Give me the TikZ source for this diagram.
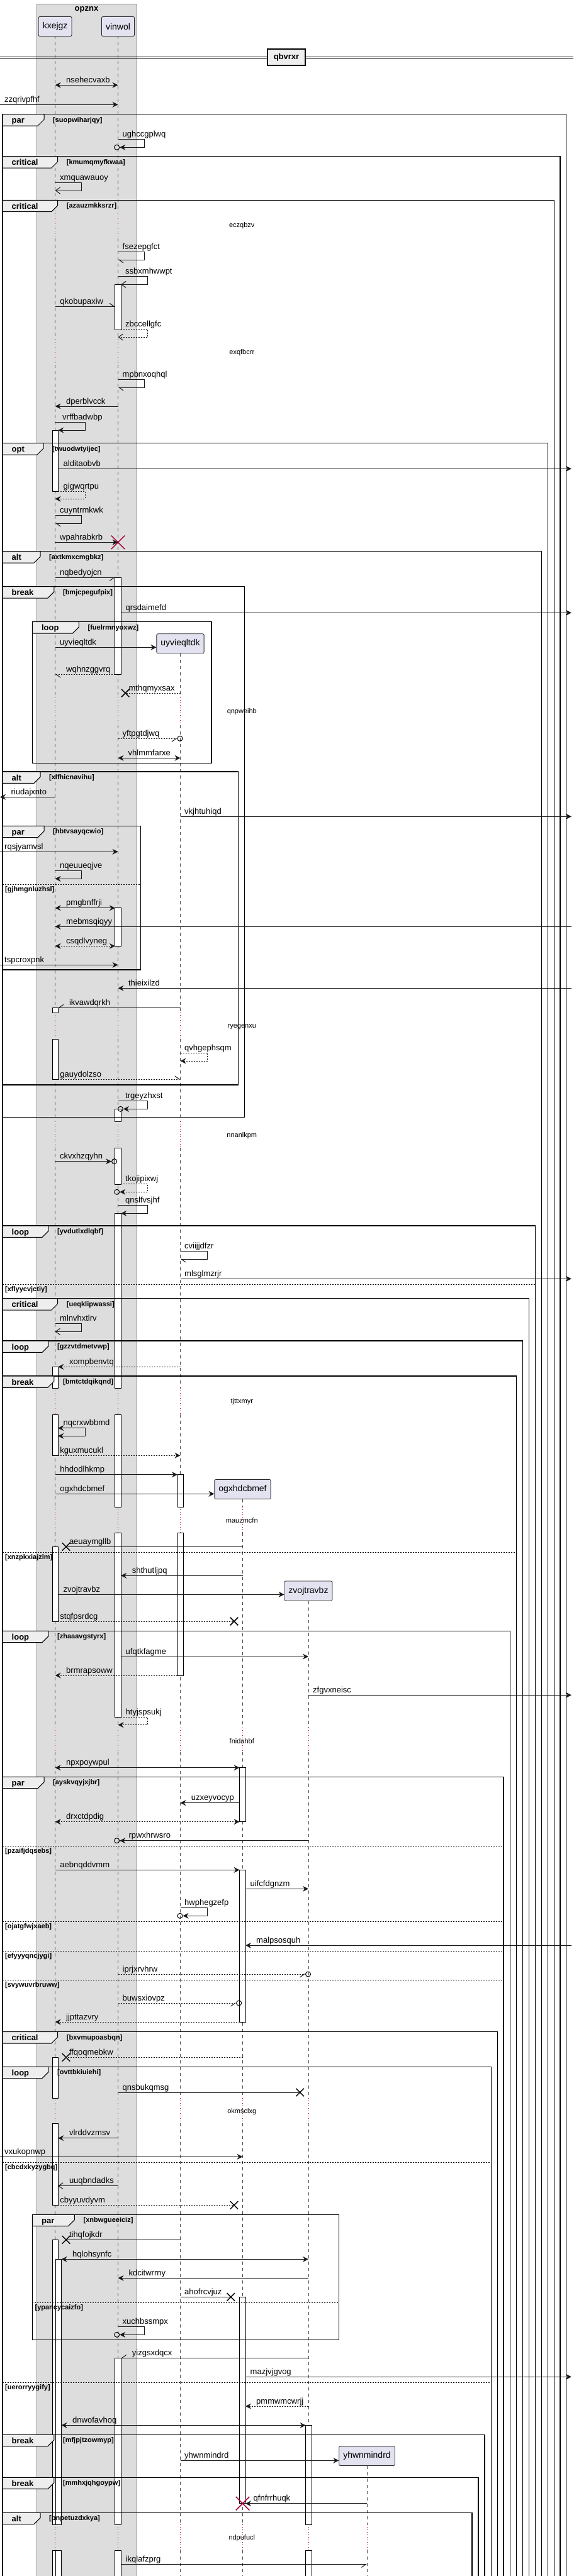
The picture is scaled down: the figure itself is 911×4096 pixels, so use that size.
\documentclass[tikz,border=0pt]{standalone}
\usepackage{fontspec}
\setmainfont{Liberation Sans}
\usetikzlibrary{arrows.meta,shapes.misc}
\definecolor{partfill}{HTML}{E2E2F0}
\definecolor{groupfill}{HTML}{DDDDDD}
\definecolor{tabfill}{HTML}{EEEEEE}
\definecolor{killred}{HTML}{A80036}
\tikzset{
  part/.style={draw=black!85, fill=partfill, rounded corners=2pt, line width=0.8pt,
    minimum height=31pt, inner xsep=6.5pt, font=\fontsize{14}{16}\selectfont},
  life/.style={draw=black!70, line width=0.6pt, dash pattern=on 5pt off 5pt},
  delayline/.style={draw=killred, line width=0.8pt, dash pattern=on 1pt off 3pt},
  act/.style={draw=black, fill=white, line width=0.8pt},
  msg/.style={draw=black!90, line width=1pt},
  ret/.style={msg, dash pattern=on 2pt off 2pt},
  tipfull/.style={-{Stealth[length=9pt,width=9pt,inset=3pt]}},
  tipboth/.style={{Stealth[length=9pt,width=9pt,inset=3pt]}-{Stealth[length=9pt,width=9pt,inset=3pt]}},
  tipopen/.style={-{Straight Barb[length=7pt,width=10pt]}},
  tiphalfl/.style={-{Straight Barb[left,length=7pt,width=10pt]}},
  tiphalfr/.style={-{Straight Barb[right,length=7pt,width=10pt]}},
  lbl/.style={anchor=base west, inner sep=0pt, font=\fontsize{13}{15}\selectfont},
  grp/.style={draw=black, line width=1.5pt},
  tab/.style={draw=black, line width=1pt, fill=tabfill},
  kw/.style={anchor=base west, inner sep=0pt, font=\bfseries\fontsize{13}{15}\selectfont},
  cond/.style={anchor=base west, inner sep=0pt, font=\bfseries\fontsize{11}{13}\selectfont},
  elseline/.style={draw=black, line width=0.8pt, dash pattern=on 2pt off 2pt},
  delaytxt/.style={inner sep=0pt, font=\fontsize{11}{13}\selectfont},
  circ/.style={circle, draw=black, line width=1pt, minimum size=8pt, inner sep=0pt},
  lostx/.style={cross out, draw=black, line width=1.5pt, minimum size=11pt, inner sep=0pt},
  killx/.style={cross out, draw=killred, line width=1.5pt, minimum size=20pt, inner sep=0pt},
}
\begin{document}
\begin{tikzpicture}[x=1pt,y=-1pt]
\useasboundingbox (0,0) rectangle (911,4096);
\clip (0,0) rectangle (911,4096);

% box round the first two
\fill[groupfill] (57.8,6) rectangle (217.3,4110);
\draw[black!45] (57.8,4110) -- (57.8,6) -- (217.3,6) -- (217.3,4110);
\node[font=\bfseries\fontsize{13}{15}\selectfont] (opznx) at (137.5,15) {opznx};

\coordinate (Lft) at (0,0);
\coordinate (Rgt) at (908,0);
\coordinate (kxa) at (92.3,0);
\coordinate (kxb) at (97.55,0);
\coordinate (vwl) at (182.8,0);
\coordinate (vwr) at (192.2,0);
\coordinate (uyl) at (282,0);
\coordinate (ogl) at (380.55,0);
\coordinate (ogr) at (389.95,0);
\coordinate (zvl) at (485.6,0);

\node[part] (kxejgz) at (87.6,42) {kxejgz};
\node[part] (vinwol) at (187.5,42) {vinwol};
\node[part] (uyvieqltdk) at (286.5,1023.3) {uyvieqltdk};
\node[part] (ogxhdcbmef) at (385.5,2368) {ogxhdcbmef};
\node[part] (zvojtravbz) at (490,2529.5) {zvojtravbz};
\node[part] (yhwnmindrd) at (583,3905) {yhwnmindrd};

% lifelines
\foreach \p in {kxejgz,vinwol}
  \foreach \a/\b in {57/335,379/540,580/1109,1153/1610,1652/1783,1825/2207,2249/2396,2437/2747,2786/3336,3376/4014,4055/4110}
    \draw[life] (\p|-0,\a) -- (\p|-0,\b);
\foreach \a/\b in {1039.3/1109,1153/1610,1652/1783,1825/2207,2249/2396,2437/2747,2786/3336,3376/4014,4055/4110}
  \draw[life] (uyvieqltdk|-0,\a) -- (uyvieqltdk|-0,\b);
\foreach \a/\b in {2384/2396,2437/2747,2786/3336,3376/4014,4055/4110}
  \draw[life] (ogxhdcbmef|-0,\a) -- (ogxhdcbmef|-0,\b);
\foreach \a/\b in {2546/2747,2786/3336,3376/4014,4055/4110}
  \draw[life] (zvojtravbz|-0,\a) -- (zvojtravbz|-0,\b);
\foreach \a/\b in {3921/4014,4055/4110}
  \draw[life] (yhwnmindrd|-0,\a) -- (yhwnmindrd|-0,\b);

% delays
\foreach \a/\b/\ps in {335/379/{kxejgz,vinwol}, 540/580/{kxejgz,vinwol},
    1109/1153/{kxejgz,vinwol,uyvieqltdk}, 1610/1652/{kxejgz,vinwol,uyvieqltdk},
    1783/1825/{kxejgz,vinwol,uyvieqltdk}, 2207/2249/{kxejgz,vinwol,uyvieqltdk},
    2396/2437/{kxejgz,vinwol,uyvieqltdk,ogxhdcbmef},
    2747/2786/{kxejgz,vinwol,uyvieqltdk,ogxhdcbmef,zvojtravbz},
    3336/3376/{kxejgz,vinwol,uyvieqltdk,ogxhdcbmef,zvojtravbz},
    4014/4055/{kxejgz,vinwol,uyvieqltdk,ogxhdcbmef,zvojtravbz,yhwnmindrd}}
  {\foreach \p in \ps {\draw[delayline] (\p|-0,\a) -- (\p|-0,\b);}}
\foreach \y/\t in {358.7/eczqbzv, 560.3/exqfbcrr, 1132/qnpweihb, 1632.3/ryegenxu,
    1805.7/nnanlkpm, 2228.7/tjttxmyr, 2417.3/mauzmcfn, 2768.3/fnidahbf,
    3357.3/okmsclxg, 4035.7/ndpufucl}
  \node[delaytxt] (d-\t) at (384.3,\y) {\t};

% activations
\foreach \x/\a/\b in {87.6/684/781, 87.6/1602.3/1610, 87.6/1652/1716, 87.6/2173.3/2207,
    87.6/2249/2314.3, 87.6/2459.3/2578, 87.6/3271.3/3336, 87.6/3376/3506.3,
    87.6/3561.3/4014, 87.6/4055/4110, 92.85/3592.3/4014, 92.85/4055/4110,
    187.5/452.3/524.3, 187.5/918.3/1072.3, 187.5/1443.7/1504.3, 187.5/1763.3/1783,
    187.5/1825/1883.3, 187.5/1929.3/2207, 187.5/2249/2396, 187.5/2437/2730.7,
    187.5/3749.3/4014, 187.5/4055/4110, 286.7/2344.7/2396, 286.7/2437/2664,
    385.25/2810.7/2896.7, 385.25/2973.3/3215, 385.25/3652.3/3980.7,
    490.3/3856.3/4014, 490.3/4055/4110}
  \draw[act] (\x-4.7,\a) rectangle (\x+4.7,\b);

% divider
\draw[black, line width=1pt] (0,90.3) -- (911,90.3) (0,92.7) -- (911,92.7);
\node[draw=black, line width=1.5pt, fill=tabfill, minimum width=60pt, minimum height=26pt,
  font=\bfseries\fontsize{13}{15}\selectfont] (qbvrxr) at (455,91) {qbvrxr};

% groups
\foreach \l/\t/\r/\b/\k/\w/\c in {
    4/181.7/899.5/4110/par/66/suopwiharjqy,
    4/248.7/890.2/4110/critical/87.7/kmumqmyfkwaa,
    4/318.3/880.3/4110/critical/87.7/azauzmkksrzr,
    4/704.7/870.3/4110/opt/65/twuodwtyijec,
    4/876.7/860.4/4110/alt/60/axtkmxcmgbkz,
    4/932.7/388.4/1776.7/break/81.9/bmjcpegufpix,
    51.4/988.7/335.9/1213.3/loop/74/fuelrmnyoxwz,
    4/1227/378.5/1725/alt/60/xlfhicnavihu,
    4/1313.3/223.7/1542/par/66/hbtvsayqcwio,
    4/1949/850.5/4110/loop/73/yvdutlxdlqbf,
    4/2064.7/840.5/4110/critical/87.7/ueqklipwassi,
    4/2132/830.6/4110/loop/73/gzzvtdmetvwp,
    4/2188/820.7/4110/break/81.9/bmtctdqikqnd,
    4/2593.3/810.7/4110/loop/73/zhaaavgstyrx,
    4/2825.3/800.2/4110/par/66/ayskvqyjxjbr,
    4/3230.7/790.3/4110/critical/87.7/bxvmupoasbqn,
    4/3286.3/780.4/4110/loop/73/ovttbkiuiehi,
    51.4/3521.3/538.5/3720.7/par/67/xnbwgueeiciz,
    4/3871.3/769.9/4110/break/81.9/mfjpjtzowmyp,
    4/3939.3/760/4110/break/81.9/mmhxjqhgoypw,
    4/3995.3/750/4110/alt/60/pnpetuzdxkya}
{
  \draw[grp] (\l,\t) rectangle (\r,\b);
  \draw[tab] (\l,\t) -- ++(\w,0) -- ++(0,8.3) -- ++(-10,10) -- (\l,\t+18.3) -- cycle;
  \node[kw] (k-\c) at (\l+14.5,\t+14) {\k};
  \node[cond] (c-\c) at (\l+\w+14,\t+12.5) {[\c]};
}
\foreach \l/\y/\r/\c in {4/1406.3/223.7/gjhmgnluzhsl, 4/2042.3/850.5/xflyycvjctiy,
    4/2468.3/820.7/xnzpkxiajzlm, 4/2935.3/800.2/pzaifjdqsebs, 4/3055.3/800.2/ojatgfwjxaeb,
    4/3102/800.2/efyyyqncjygi, 4/3148.3/800.2/svywuvrbruww, 4/3438.3/780.4/cbcdxkyzygbq,
    51.4/3661.3/538.5/ypancycaizfo, 4/3788.3/780.4/uerorryygify}
{
  \draw[elseline] (\l,\y) -- (\r,\y);
  \node[cond] (e-\c) at (\l+4,\y+11.5) {[\c]};
}

% end marks
\node[circ] (o1) at (185.7,234.3) {};
\node[lostx] (x1) at (199.2,1102) {};
\node[circ] (o2) at (286,1174.3) {};
\node[circ] (o3) at (191.4,1763.3) {};
\node[circ] (o4) at (181.6,1846.7) {};
\node[circ] (o5) at (185.7,1895.3) {};
\node[lostx] (x2) at (105,2459.3) {};
\node[lostx] (x3) at (372,2578) {};
\node[circ] (o6) at (185.7,2926.7) {};
\node[circ] (o7) at (286,3046.3) {};
\node[circ] (o8) at (489.5,3139) {};
\node[circ] (o9) at (379.7,3185) {};
\node[lostx] (x4) at (105,3271.3) {};
\node[lostx] (x5) at (476.6,3327) {};
\node[lostx] (x6) at (372,3506.3) {};
\node[lostx] (x7) at (105,3561.3) {};
\node[lostx] (x8) at (366.8,3652.3) {};
\node[circ] (o10) at (185.7,3712.3) {};
\node[killx] (k1) at (vinwol|-0,862.3) {};
\node[killx] (k2) at (ogxhdcbmef|-0,3980.7) {};

% messages
\draw[msg,tipboth] (kxejgz|-0,135.3) -- (vinwol|-0,135.3);
\node[lbl] (l-nsehecvaxb) at (105,131.3) {nsehecvaxb};
\draw[msg,tipfull] (Lft|-0,166.3) -- (vinwol|-0,166.3);
\node[lbl] (l-zzqrivpfhf) at (7,162.3) {zzqrivpfhf};
\draw[msg,tipfull] (vinwol|-0,221.7) -- ++(42.1,0) -- ++(0,12.6) -- (o1.east);
\node[lbl] (l-ughccgplwq) at (194.5,217.7) {ughccgplwq};
\draw[msg,tipopen] (kxejgz|-0,290.3) -- ++(42.1,0) -- ++(0,12.7) -- (kxejgz|-0,303);
\node[lbl] (l-xmquawauoy) at (95,286.3) {xmquawauoy};
\draw[msg,tiphalfl] (vinwol|-0,400.3) -- ++(42.1,0) -- ++(0,12.7) -- (vinwol|-0,413);
\node[lbl] (l-fsezepgfct) at (194.5,396.3) {fsezepgfct};
\draw[msg,tipopen] (vinwol|-0,439.3) -- ++(47.3,0) -- ++(0,13) -- (vwr|-0,452.3);
\node[lbl] (l-ssbxmhwwpt) at (199,435.3) {ssbxmhwwpt};
\draw[msg,tiphalfl] (kxejgz|-0,487.3) -- (vwl|-0,487.3);
\node[lbl] (l-qkobupaxiw) at (95.2,483.3) {qkobupaxiw};
\draw[ret,tipopen] (vwr|-0,523.3) -- ++(42.6,0) -- ++(0,12.7) -- (vinwol|-0,536);
\node[lbl] (l-zbccellgfc) at (199,519.3) {zbccellgfc};
\draw[msg,tiphalfl] (vinwol|-0,603.3) -- ++(42.1,0) -- ++(0,12.7) -- (vinwol|-0,616);
\node[lbl] (l-mpbnxoqhql) at (194.5,599.3) {mpbnxoqhql};
\draw[msg,tipfull] (vinwol|-0,646) -- (kxejgz|-0,646);
\node[lbl] (l-dperblvcck) at (105,642) {dperblvcck};
\draw[msg,tipfull] (kxejgz|-0,671.3) -- ++(47.4,0) -- ++(0,12.7) -- (kxa|-0,684);
\node[lbl] (l-vrffbadwbp) at (99,667.3) {vrffbadwbp};
\draw[msg,tipfull] (kxa|-0,745.3) -- (Rgt|-0,745.3);
\node[lbl] (l-alditaobvb) at (100.5,741.3) {alditaobvb};
\draw[ret,tipfull] (kxa|-0,781) -- ++(42.7,0) -- ++(0,12.3) -- (kxejgz|-0,793.3);
\node[lbl] (l-gigwqrtpu) at (100.5,777) {gigwqrtpu};
\draw[msg,tiphalfl] (kxejgz|-0,819.3) -- ++(42.1,0) -- ++(0,12.7) -- (kxejgz|-0,832);
\node[lbl] (l-cuyntrmkwk) at (95,815.3) {cuyntrmkwk};
\draw[msg,tipfull] (kxejgz|-0,862.3) -- (k1.center);
\node[lbl] (l-wpahrabkrb) at (95,858.3) {wpahrabkrb};
\draw[msg,tiphalfr] (kxejgz|-0,918.3) -- (vwl|-0,918.3);
\node[lbl] (l-nqbedyojcn) at (95,914.3) {nqbedyojcn};
\draw[msg,tipfull] (vwr|-0,974.3) -- (Rgt|-0,974.3);
\node[lbl] (l-qrsdaimefd) at (199.5,970.3) {qrsdaimefd};
\draw[msg,tipfull] (kxejgz|-0,1029.3) -- (uyvieqltdk.west|-0,1029.3);
\node[lbl] (l-uyvieqltdk) at (95,1025.3) {uyvieqltdk};
\draw[ret,tiphalfl] (vwl|-0,1072.3) -- (kxejgz|-0,1072.3);
\node[lbl] (l-wqhnzggvrq) at (105,1068.3) {wqhnzggvrq};
\draw[ret] (uyvieqltdk|-0,1102) -- (x1.center);
\node[lbl] (l-mthqmyxsax) at (204.4,1098) {mthqmyxsax};
\draw[ret,tiphalfr] (vinwol|-0,1174.3) -- (o2.west);
\node[lbl] (l-yftpgtdjwq) at (194.5,1170.3) {yftpgtdjwq};
\draw[msg,tipboth] (vinwol|-0,1205.3) -- (uyvieqltdk|-0,1205.3);
\node[lbl] (l-vhlmmfarxe) at (203.5,1201.3) {vhlmmfarxe};
\draw[msg,tipfull] (kxejgz|-0,1267.3) -- (Lft|-0,1267.3);
\node[lbl] (l-riudajxnto) at (17.5,1263.3) {riudajxnto};
\draw[msg,tipfull] (uyvieqltdk|-0,1298.3) -- (Rgt|-0,1298.3);
\node[lbl] (l-vkjhtuhiqd) at (293,1294.3) {vkjhtuhiqd};
\draw[msg,tipfull] (Lft|-0,1354.3) -- (vinwol|-0,1354.3);
\node[lbl] (l-rqsjyamvsl) at (7,1350.3) {rqsjyamvsl};
\draw[msg,tipfull] (kxejgz|-0,1384.3) -- ++(42.1,0) -- ++(0,13) -- (kxejgz|-0,1397.3);
\node[lbl] (l-nqeuueqjve) at (95,1380.3) {nqeuueqjve};
\draw[msg,tipboth] (kxejgz|-0,1443.7) -- (vwl|-0,1443.7);
\node[lbl] (l-pmgbnffrji) at (105,1439.7) {pmgbnffrji};
\draw[msg,tipfull] (Rgt|-0,1473.3) -- (kxejgz|-0,1473.3);
\node[lbl] (l-mebmsqiqyy) at (105,1469.3) {mebmsqiqyy};
\draw[ret,tipboth] (kxejgz|-0,1504.3) -- (vwl|-0,1504.3);
\node[lbl] (l-csqdlvyneg) at (105,1500.3) {csqdlvyneg};
\draw[msg,tipfull] (Lft|-0,1534.3) -- (vinwol|-0,1534.3);
\node[lbl] (l-tspcroxpnk) at (7,1530.3) {tspcroxpnk};
\draw[msg,tipfull] (Rgt|-0,1571.3) -- (vinwol|-0,1571.3);
\node[lbl] (l-thieixilzd) at (203.9,1567.3) {thieixilzd};
\draw[msg,tiphalfr] (uyvieqltdk|-0,1602.3) -- (kxa|-0,1602.3);
\node[lbl] (l-ikvawdqrkh) at (109.8,1598.3) {ikvawdqrkh};
\draw[ret,tipfull] (uyvieqltdk|-0,1674) -- ++(43.4,0) -- ++(0,13) -- (uyvieqltdk|-0,1687);
\node[lbl] (l-qvhgephsqm) at (293,1670) {qvhgephsqm};
\draw[ret,tiphalfl] (kxa|-0,1716) -- (uyvieqltdk|-0,1716);
\node[lbl] (l-gauydolzso) at (95.2,1712) {gauydolzso};
\draw[msg,tipfull] (vinwol|-0,1750.3) -- ++(47.3,0) -- ++(0,13) -- (o3.east);
\node[lbl] (l-trgeyzhxst) at (199,1746.3) {trgeyzhxst};
\draw[msg,tipfull] (kxejgz|-0,1846.7) -- (o4.west);
\node[lbl] (l-ckvxhzqyhn) at (95,1842.7) {ckvxhzqyhn};
\draw[ret,tipfull] (vwr|-0,1882.3) -- ++(42.6,0) -- ++(0,13) -- (o5.east);
\node[lbl] (l-tkojipixwj) at (199,1878.3) {tkojipixwj};
\draw[msg,tipfull] (vinwol|-0,1916.7) -- ++(47.3,0) -- ++(0,12.6) -- (vwr|-0,1929.3);
\node[lbl] (l-qnslfvsjhf) at (199,1912.7) {qnslfvsjhf};
\draw[msg,tiphalfl] (uyvieqltdk|-0,1989.3) -- ++(43.4,0) -- ++(0,12.7) -- (uyvieqltdk|-0,2002);
\node[lbl] (l-cviijjdfzr) at (293,1985.3) {cviijjdfzr};
\draw[msg,tipfull] (uyvieqltdk|-0,2033.3) -- (Rgt|-0,2033.3);
\node[lbl] (l-mlsglmzrjr) at (293,2029.3) {mlsglmzrjr};
\draw[msg,tipopen] (kxejgz|-0,2104.7) -- ++(42.1,0) -- ++(0,12.6) -- (kxejgz|-0,2117.3);
\node[lbl] (l-mlnvhxtlrv) at (95,2100.7) {mlnvhxtlrv};
\draw[ret,tipfull] (uyvieqltdk|-0,2173.3) -- (kxa|-0,2173.3);
\node[lbl] (l-xompbenvtq) at (109.8,2169.3) {xompbenvtq};
\draw[msg,tipboth] (kxa|-0,2270.7) -- ++(42.7,0) -- ++(0,12.6) -- (kxa|-0,2283.3);
\node[lbl] (l-nqcrxwbbmd) at (100.5,2266.7) {nqcrxwbbmd};
\draw[ret,tipfull] (kxa|-0,2314.3) -- (uyvieqltdk|-0,2314.3);
\node[lbl] (l-kguxmucukl) at (95.2,2310.3) {kguxmucukl};
\draw[msg,tipfull] (kxejgz|-0,2344.7) -- (uyl|-0,2344.7);
\node[lbl] (l-hhdodlhkmp) at (95.2,2340.7) {hhdodlhkmp};
\draw[msg,tipfull] (kxejgz|-0,2375.3) -- (ogxhdcbmef.west|-0,2375.3);
\node[lbl] (l-ogxhdcbmef) at (95.2,2371.3) {ogxhdcbmef};
\draw[msg] (ogxhdcbmef|-0,2459.3) -- (x2.center);
\node[lbl] (l-aeuaymgllb) at (109.8,2455.3) {aeuaymgllb};
\draw[msg,tipfull] (ogxhdcbmef|-0,2505.3) -- (vwr|-0,2505.3);
\node[lbl] (l-shthutljpq) at (209.7,2501.3) {shthutljpq};
\draw[msg,tipfull] (kxa|-0,2535.3) -- (zvojtravbz.west|-0,2535.3);
\node[lbl] (l-zvojtravbz) at (100.5,2531.3) {zvojtravbz};
\draw[ret] (kxa|-0,2578) -- (x3.center);
\node[lbl] (l-stqfpsrdcg) at (95.2,2574) {stqfpsrdcg};
\draw[msg,tipfull] (vwr|-0,2634) -- (zvojtravbz|-0,2634);
\node[lbl] (l-ufqtkfagme) at (199.5,2630) {ufqtkfagme};
\draw[ret,tipfull] (uyl|-0,2664) -- (kxejgz|-0,2664);
\node[lbl] (l-brmrapsoww) at (105,2660) {brmrapsoww};
\draw[msg,tipfull] (zvojtravbz|-0,2695.3) -- (Rgt|-0,2695.3);
\node[lbl] (l-zfgvxneisc) at (497,2691.3) {zfgvxneisc};
\draw[ret,tipfull] (vwr|-0,2730.7) -- ++(42.6,0) -- ++(0,12) -- (vinwol|-0,2742.7);
\node[lbl] (l-htyjspsukj) at (199.5,2726.7) {htyjspsukj};
\draw[msg,tipboth] (kxejgz|-0,2810.7) -- (ogl|-0,2810.7);
\node[lbl] (l-npxpoywpul) at (105,2806.7) {npxpoywpul};
\draw[msg,tipfull] (ogl|-0,2866.7) -- (uyvieqltdk|-0,2866.7);
\node[lbl] (l-uzxeyvocyp) at (303.7,2862.7) {uzxeyvocyp};
\draw[ret,tipboth] (kxejgz|-0,2896.7) -- (ogl|-0,2896.7);
\node[lbl] (l-drxctdpdig) at (105,2892.7) {drxctdpdig};
\draw[msg,tipfull] (zvojtravbz|-0,2926.7) -- (o6.east);
\node[lbl] (l-rpwxhrwsro) at (204.4,2922.7) {rpwxhrwsro};
\draw[msg,tipfull] (kxejgz|-0,2973.3) -- (ogl|-0,2973.3);
\node[lbl] (l-aebnqddvmm) at (95.2,2969.3) {aebnqddvmm};
\draw[msg,tipfull] (ogr|-0,3003.3) -- (zvojtravbz|-0,3003.3);
\node[lbl] (l-uifcfdgnzm) at (397.5,2999.3) {uifcfdgnzm};
\draw[msg,tipfull] (uyvieqltdk|-0,3033.3) -- ++(43.4,0) -- ++(0,13) -- (o7.east);
\node[lbl] (l-hwphegzefp) at (293,3029.3) {hwphegzefp};
\draw[msg,tipfull] (Rgt|-0,3093.3) -- (ogr|-0,3093.3);
\node[lbl] (l-malpsosquh) at (407,3089.3) {malpsosquh};
\draw[ret,tiphalfr] (vinwol|-0,3139) -- (o8.west);
\node[lbl] (l-iprjxrvhrw) at (194.5,3135) {iprjxrvhrw};
\draw[ret,tiphalfr] (vinwol|-0,3185) -- (o9.west);
\node[lbl] (l-buwsxiovpz) at (194.5,3181) {buwsxiovpz};
\draw[ret,tipfull] (ogl|-0,3215) -- (kxejgz|-0,3215);
\node[lbl] (l-jjpttazvry) at (105,3211) {jjpttazvry};
\draw[ret] (ogxhdcbmef|-0,3271.3) -- (x4.center);
\node[lbl] (l-ffqoqmebkw) at (109.8,3267.3) {ffqoqmebkw};
\draw[msg] (vinwol|-0,3327) -- (x5.center);
\node[lbl] (l-qnsbukqmsg) at (194.5,3323) {qnsbukqmsg};
\draw[msg,tipfull] (vinwol|-0,3399.7) -- (kxa|-0,3399.7);
\node[lbl] (l-vlrddvzmsv) at (109.8,3395.7) {vlrddvzmsv};
\draw[msg,tipfull] (Lft|-0,3429.3) -- (ogxhdcbmef|-0,3429.3);
\node[lbl] (l-vxukopnwp) at (7,3425.3) {vxukopnwp};
\draw[msg,tipopen] (vinwol|-0,3475.7) -- (kxa|-0,3475.7);
\node[lbl] (l-uuqbndadks) at (109.8,3471.7) {uuqbndadks};
\draw[ret] (kxa|-0,3506.3) -- (x6.center);
\node[lbl] (l-cbyyuvdyvm) at (95.2,3502.3) {cbyyuvdyvm};
\draw[msg] (uyvieqltdk|-0,3561.3) -- (x7.center);
\node[lbl] (l-tihqfojkdr) at (109.8,3557.3) {tihqfojkdr};
\draw[msg,tipboth] (kxb|-0,3592.3) -- (zvojtravbz|-0,3592.3);
\node[lbl] (l-hqlohsynfc) at (115,3588.3) {hqlohsynfc};
\draw[msg,tipfull] (zvojtravbz|-0,3622.3) -- (vinwol|-0,3622.3);
\node[lbl] (l-kdcitwrrny) at (204.4,3618.3) {kdcitwrrny};
\draw[msg] (uyvieqltdk|-0,3652.3) -- (x8.center);
\node[lbl] (l-ahofrcvjuz) at (293,3648.3) {ahofrcvjuz};
\draw[msg,tipfull] (vinwol|-0,3699.3) -- ++(42.1,0) -- ++(0,13) -- (o10.east);
\node[lbl] (l-xuchbssmpx) at (194.5,3695.3) {xuchbssmpx};
\draw[msg,tiphalfr] (zvojtravbz|-0,3749.3) -- (vwr|-0,3749.3);
\node[lbl] (l-yizgsxdqcx) at (209.7,3745.3) {yizgsxdqcx};
\draw[msg,tipfull] (ogr|-0,3779.3) -- (Rgt|-0,3779.3);
\node[lbl] (l-mazjvjgvog) at (397.5,3775.3) {mazjvjgvog};
\draw[ret,tipfull] (zvojtravbz|-0,3826) -- (ogr|-0,3826);
\node[lbl] (l-pmmwmcwrjj) at (407,3822) {pmmwmcwrjj};
\draw[msg,tipboth] (kxb|-0,3856.3) -- (zvl|-0,3856.3);
\node[lbl] (l-dnwofavhoq) at (115,3852.3) {dnwofavhoq};
\draw[msg,tipfull] (uyvieqltdk|-0,3912.3) -- (yhwnmindrd.west|-0,3912.3);
\node[lbl] (l-yhwnmindrd) at (293,3908.3) {yhwnmindrd};
\draw[msg,tipfull] (yhwnmindrd|-0,3980.7) -- (ogr|-0,3980.7);
\node[lbl] (l-qfnfrrhuqk) at (402.5,3976.7) {qfnfrrhuqk};
\draw[msg,tiphalfr] (vwr|-0,4077.3) -- (yhwnmindrd|-0,4077.3);
\node[lbl] (l-ikqlafzprg) at (199.5,4073.3) {ikqlafzprg};
\end{tikzpicture}
\end{document}
